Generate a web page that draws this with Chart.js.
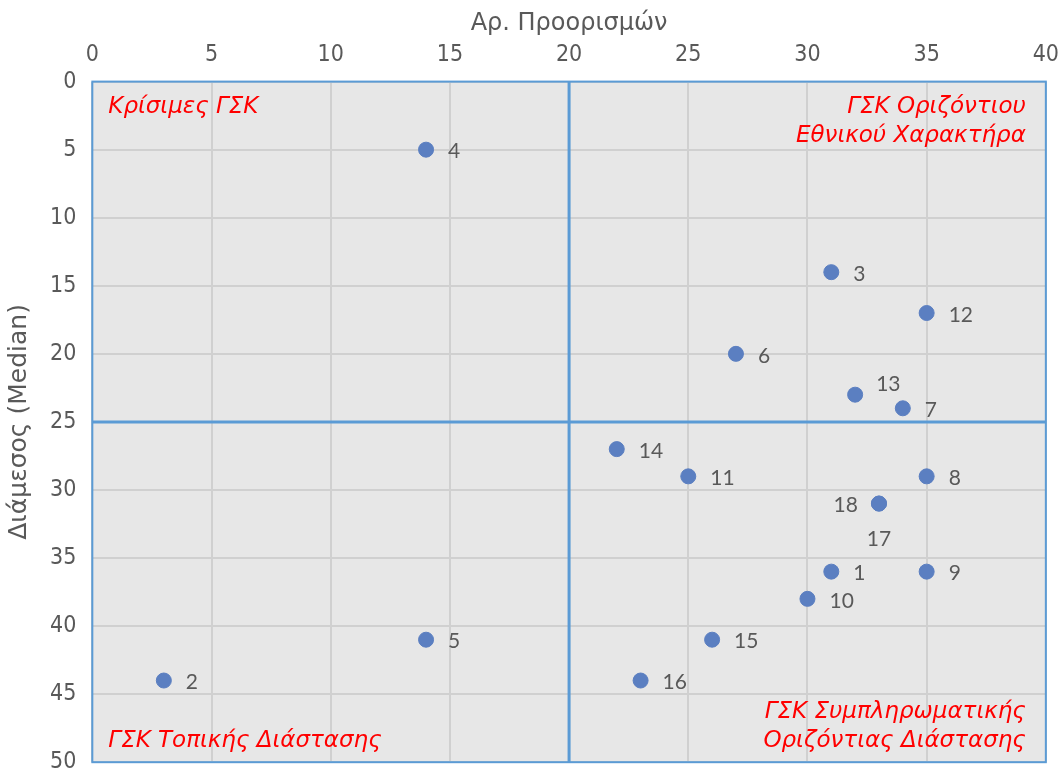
<!DOCTYPE html>
<html>
<head>
<meta charset="utf-8">
<script src="https://cdn.jsdelivr.net/npm/chart.js@4"></script>
<style>
  html, body { margin: 0; padding: 0; background: #fff; overflow: hidden; }
  #wrap { width: 1074px; height: 792px; }
</style>
</head>
<body>
<div id="wrap"><canvas id="chart"></canvas></div>
<script>
// Data
const ids = ['1', '2', '3', '4', '5', '6', '7', '8', '9', '10', '11', '12', '13', '14', '15', '16', '17', '18'];
const destinations = [31, 3, 31, 14, 14, 27, 34, 35, 35, 30, 25, 35, 32, 22, 26, 23, 33, 33];
const medianDistance = [36, 44, 14, 5, 41, 20, 24, 29, 36, 38, 29, 17, 23, 27, 41, 44, 31, 31];
const xTicks = [0, 5, 10, 15, 20, 25, 30, 35, 40];
const yTicks = [0, 5, 10, 15, 20, 25, 30, 35, 40, 45, 50];
const quadrantX = 20;
const quadrantY = 25;
const quadrantNames = ['Κρίσιμες ΓΣΚ', 'ΓΣΚ Οριζόντιου|Εθνικού Χαρακτήρα', 'ΓΣΚ Τοπικής Διάστασης', 'ΓΣΚ Συμπληρωματικής|Οριζόντιας Διάστασης'];

const FONT = '"DejaVu Sans Condensed", "DejaVu Sans", Verdana, sans-serif';
const FONT_WIDE = '"DejaVu Sans", Verdana, sans-serif';

// label placement (dx, dy) relative to the point
const labelOffset = { '13': [21, -10], '18': [-21, 2], '17': [0, 36] };

const points = destinations.map((x, i) => ({ x: x, y: medianDistance[i], id: ids[i] }));

const quadrantPlugin = {
  id: 'quadrants',
  beforeDatasetsDraw(chart) {
    const { ctx, chartArea: a, scales } = chart;
    ctx.save();
    // quadrant dividers
    ctx.strokeStyle = '#5B9BD5';
    ctx.lineWidth = 3;
    const qx = scales.x.getPixelForValue(quadrantX);
    const qy = scales.y.getPixelForValue(quadrantY);
    ctx.beginPath();
    ctx.moveTo(qx, a.top); ctx.lineTo(qx, a.bottom);
    ctx.moveTo(a.left, qy); ctx.lineTo(a.right, qy);
    ctx.stroke();
    // border
    ctx.lineWidth = 2;
    ctx.strokeRect(a.left, a.top, a.right - a.left, a.bottom - a.top);

    // quadrant names
    ctx.fillStyle = '#FF0000';
    ctx.font = 'italic 23px ' + FONT_WIDE;
    ctx.textBaseline = 'alphabetic';
    const lh = 29;
    ctx.textAlign = 'left';
    ctx.fillText(quadrantNames[0], a.left + 16, a.top + 31);
    ctx.fillText(quadrantNames[2], a.left + 16, a.bottom - 15);
    ctx.textAlign = 'right';
    const ne = quadrantNames[1].split('|');
    ctx.fillText(ne[0], a.right - 20, a.top + 31);
    ctx.fillText(ne[1], a.right - 20, a.top + 31 + lh);
    const se = quadrantNames[3].split('|');
    ctx.fillText(se[0], a.right - 20, a.bottom - 15 - lh);
    ctx.fillText(se[1], a.right - 20, a.bottom - 15);
    ctx.restore();
  },
  afterDatasetsDraw(chart) {
    const { ctx } = chart;
    const meta = chart.getDatasetMeta(0);
    ctx.save();
    ctx.fillStyle = '#595959';
    ctx.font = '21px Lato, "Open Sans", sans-serif';
    ctx.textBaseline = 'middle';
    meta.data.forEach((el, i) => {
      const id = ids[i];
      const off = labelOffset[id] || [22, 2];
      ctx.textAlign = off[0] < 0 ? 'right' : (off[0] === 0 ? 'center' : 'left');
      ctx.fillText(id, el.x + off[0], el.y + off[1]);
    });
    ctx.restore();
  }
};

const bgPlugin = {
  id: 'plotBg',
  beforeDraw(chart) {
    const { ctx, chartArea: a } = chart;
    ctx.save();
    ctx.fillStyle = '#E7E7E7';
    ctx.fillRect(a.left, a.top, a.right - a.left, a.bottom - a.top);
    ctx.restore();
  }
};

new Chart(document.getElementById('chart'), {
  type: 'scatter',
  data: {
    datasets: [{
      data: points,
      backgroundColor: '#5B7FC1',
      borderColor: '#5B7FC1',
      pointRadius: 7.5,
      pointHoverRadius: 7.5
    }]
  },
  options: {
    responsive: true,
    maintainAspectRatio: false,
    animation: false,
    layout: { padding: { left: 4, right: 0, top: 19, bottom: 0 } },
    plugins: { legend: { display: false }, tooltip: { enabled: false } },
    scales: {
      x: {
        position: 'top',
        min: xTicks[0], max: xTicks[xTicks.length - 1],
        afterBuildTicks: axis => { axis.ticks = xTicks.map(v => ({ value: v })); },
        grid: { color: '#D0D0D0', lineWidth: 2, drawTicks: false },
        border: { display: false },
        ticks: { color: '#595959', padding: 15, font: { family: FONT, size: 23, lineHeight: 1 } },
        title: { display: true, text: 'Αρ. Προορισμών', color: '#595959', padding: { top: 0, bottom: 0 }, font: { family: FONT_WIDE, size: 24, lineHeight: 0.4 } }
      },
      y: {
        reverse: true,
        min: yTicks[0], max: yTicks[yTicks.length - 1],
        afterBuildTicks: axis => { axis.ticks = yTicks.map(v => ({ value: v })); },
        grid: { color: '#D0D0D0', lineWidth: 2, drawTicks: false },
        border: { display: false },
        ticks: { color: '#595959', padding: 16, font: { family: FONT, size: 23 } },
        title: { display: true, text: 'Διάμεσος (Median)', color: '#595959', padding: { top: 0, bottom: 0 }, font: { family: FONT_WIDE, size: 25 } }
      }
    }
  },
  plugins: [bgPlugin, quadrantPlugin]
});
</script>
</body>
</html>
